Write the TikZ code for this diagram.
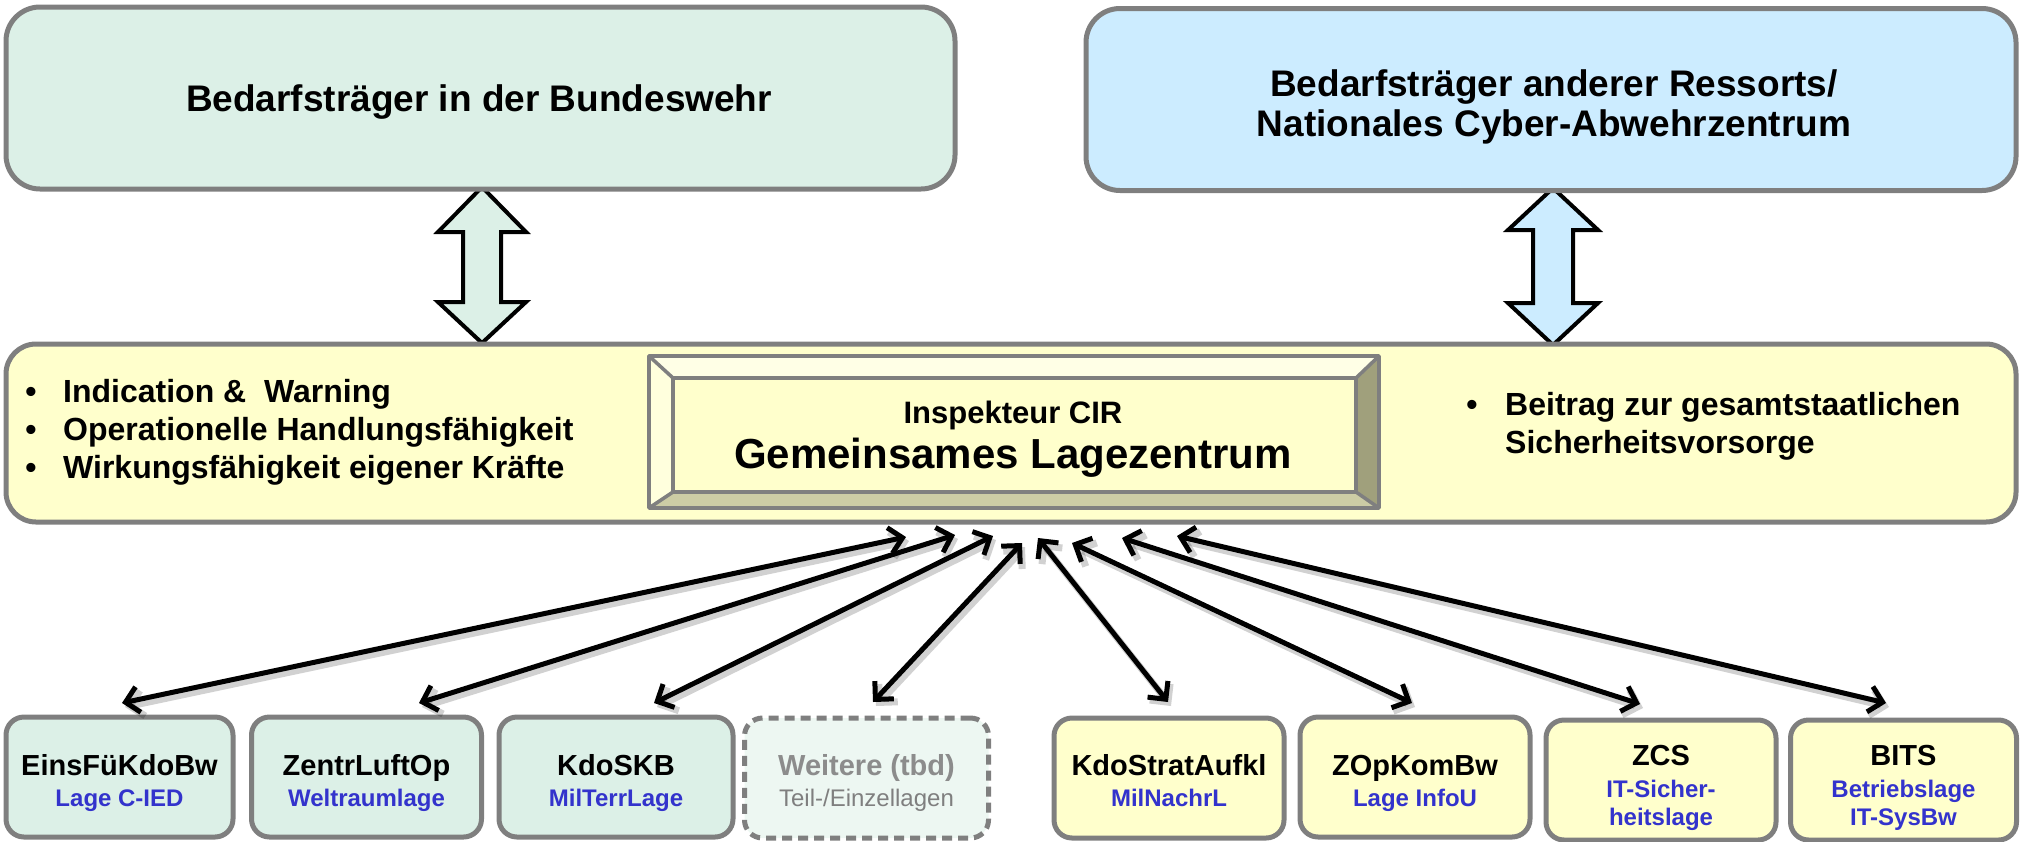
\documentclass[tikz,border=0pt]{standalone}
\usepackage{fontspec}
\setmainfont{Liberation Sans}
\usetikzlibrary{arrows.meta}
\definecolor{bordergray}{RGB}{127,127,127}
\definecolor{greenfill}{RGB}{220,240,231}
\definecolor{bluefill}{RGB}{204,236,255}
\definecolor{yellowfill}{RGB}{255,255,204}
\definecolor{palegreen}{RGB}{237,247,242}
\definecolor{sublabel}{RGB}{51,51,204}
\definecolor{graytext}{RGB}{140,140,140}
\definecolor{bevtop}{RGB}{255,255,230}
\definecolor{bevleft}{RGB}{255,255,221}
\definecolor{bevright}{RGB}{160,160,124}
\definecolor{bevbottom}{RGB}{204,204,165}
\tikzset{
  topbox/.style={draw=bordergray, line width=5pt, rounded corners=34pt, inner sep=0pt},
  midbox/.style={draw=bordergray, line width=5pt, rounded corners=30pt, inner sep=0pt, fill=yellowfill},
  lowbox/.style={draw=bordergray, line width=5pt, rounded corners=18pt, inner sep=0pt, minimum height=120pt},
  headtext/.style={font=\fontsize{37}{40}\selectfont\bfseries, anchor=base, inner sep=0pt},
  bullettext/.style={font=\fontsize{32}{38}\selectfont\bfseries, anchor=base west, inner sep=0pt},
  bulletmark/.style={font=\fontsize{32}{38}\selectfont\bfseries, anchor=base, inner sep=0pt},
  titletext/.style={font=\fontsize{29}{32}\selectfont\bfseries, anchor=base, inner sep=0pt},
  subtext/.style={font=\fontsize{24}{28}\selectfont\bfseries, text=sublabel, anchor=base, inner sep=0pt},
  blockarrow/.style={draw=black, line width=4pt, line join=miter},
  linkarrow/.style={line width=5pt, {Straight Barb[length=13pt,width=26pt]}-{Straight Barb[length=13pt,width=26pt]}},
  linkshadow/.style={linkarrow, draw=black, opacity=0.18, line width=7pt},
  bevline/.style={draw=bordergray, line width=3.5pt, line join=round}
}
\begin{document}
\begin{tikzpicture}[x=1pt,y=-1pt]
\useasboundingbox (0,0) rectangle (2020,841);

% block double arrows
\draw[blockarrow, fill=greenfill] (482,187) -- (526,232) -- (501,232) -- (501,302) -- (526,302) -- (482,343) -- (438,302) -- (463,302) -- (463,232) -- (438,232) -- cycle;
\draw[blockarrow, fill=bluefill] (1553,188) -- (1598,230) -- (1573,230) -- (1573,303) -- (1598,303) -- (1553,345) -- (1508,303) -- (1533,303) -- (1533,230) -- (1508,230) -- cycle;

% top boxes
\node[topbox, fill=greenfill, minimum width=949pt, minimum height=182pt] (topL) at (480.5,98) {};
\node[headtext] (topLt) at (479,111) {Bedarfsträger in der Bundeswehr};
\node[topbox, fill=bluefill, minimum width=930pt, minimum height=182pt] (topR) at (1551,99.5) {};
\node[headtext] (topRt1) at (1554,96) {Bedarfsträger anderer Ressorts/};
\node[headtext] (topRt2) at (1554,136) {Nationales Cyber-Abwehrzentrum};

% middle box
\node[midbox, minimum width=2010pt, minimum height=178pt] (mid) at (1011,433) {};

% bevel box
\fill[bevtop] (649,356) -- (1379,356) -- (1356,378) -- (673,378) -- cycle;
\fill[bevleft] (649,356) -- (673,378) -- (673,492) -- (649,508) -- cycle;
\fill[bevright] (1379,356) -- (1379,508) -- (1356,492) -- (1356,378) -- cycle;
\fill[bevbottom] (649,508) -- (1379,508) -- (1356,492) -- (673,492) -- cycle;
\fill[yellowfill] (673,378) rectangle (1356,492);
\draw[bevline] (649,356) rectangle (1379,508);
\draw[bevline] (673,378) rectangle (1356,492);
\draw[bevline] (649,356) -- (673,378) (1379,356) -- (1356,378) (649,508) -- (673,492) (1379,508) -- (1356,492);
\node[font=\fontsize{31}{34}\selectfont\bfseries, anchor=base, inner sep=0pt] (insp) at (1013,423) {Inspekteur CIR};
\node[font=\fontsize{42}{46}\selectfont\bfseries, anchor=base, inner sep=0pt] (glz) at (1013,468) {Gemeinsames Lagezentrum};

% bullets left
\node[bulletmark] (bl1) at (31,402) {•};
\node[bullettext] (tl1) at (63,402) {Indication \&\ \ Warning};
\node[bulletmark] (bl2) at (31,440) {•};
\node[bullettext] (tl2) at (63,440) {Operationelle Handlungsfähigkeit};
\node[bulletmark] (bl3) at (31,478) {•};
\node[bullettext] (tl3) at (63,478) {Wirkungsfähigkeit eigener Kräfte};
% bullets right
\node[bulletmark] (br1) at (1472,415) {•};
\node[bullettext] (tr1) at (1505,415) {Beitrag zur gesamtstaatlichen};
\node[bullettext] (tr2) at (1505,453) {Sicherheitsvorsorge};

% bottom boxes
\node[lowbox, fill=greenfill, minimum width=227pt] (b1) at (119.5,777) {};
\node[lowbox, fill=greenfill, minimum width=230pt] (b2) at (366.5,777) {};
\node[lowbox, fill=greenfill, minimum width=234pt] (b3) at (616,777) {};
\node[lowbox, fill=palegreen, minimum width=244pt, dash pattern=on 10pt off 6pt] (b4) at (866.5,778) {};
\node[lowbox, fill=yellowfill, minimum width=230pt] (b5) at (1169,778) {};
\node[lowbox, fill=yellowfill, minimum width=230pt] (b6) at (1415,777) {};
\node[lowbox, fill=yellowfill, minimum width=230pt] (b7) at (1661,780) {};
\node[lowbox, fill=yellowfill, minimum width=226pt] (b8) at (1903.5,780) {};

\node[titletext] (b1t) at (119.5,775) {EinsFüKdoBw};
\node[subtext] (b1s) at (119.5,806) {Lage C-IED};
\node[titletext] (b2t) at (366.5,775) {ZentrLuftOp};
\node[subtext] (b2s) at (366.5,806) {Weltraumlage};
\node[titletext] (b3t) at (616,775) {KdoSKB};
\node[subtext] (b3s) at (616,806) {MilTerrLage};
\node[titletext, text=graytext] (b4t) at (866.5,775) {Weitere (tbd)};
\node[subtext, font=\fontsize{24}{28}\selectfont, text=bordergray] (b4s) at (866.5,806) {Teil-/Einzellagen};
\node[titletext] (b5t) at (1169,775) {KdoStratAufkl};
\node[subtext] (b5s) at (1169,806) {MilNachrL};
\node[titletext] (b6t) at (1415,775) {ZOpKomBw};
\node[subtext] (b6s) at (1415,806) {Lage InfoU};
\node[titletext] (b7t) at (1661,765) {ZCS};
\node[subtext] (b7s1) at (1661,797) {IT-Sicher-};
\node[subtext] (b7s2) at (1661,825) {heitslage};
\node[titletext] (b8t) at (1903.5,765) {BITS};
\node[subtext] (b8s1) at (1903.5,797) {Betriebslage};
\node[subtext] (b8s2) at (1903.5,825) {IT-SysBw};

% connector end points
\coordinate (s1) at (906,537);  \coordinate (e1) at (122,703);
\coordinate (s2) at (955,535);  \coordinate (e2) at (419,703);
\coordinate (s3) at (993,536);  \coordinate (e3) at (654,703);
\coordinate (s4) at (1022,543); \coordinate (e4) at (873,702);
\coordinate (s5) at (1038,538); \coordinate (e5) at (1168,702);
\coordinate (s6) at (1072,543); \coordinate (e6) at (1412,703);
\coordinate (s7) at (1122,538); \coordinate (e7) at (1640,704);
\coordinate (s8) at (1177,536); \coordinate (e8) at (1886,703);

\foreach \i in {1,...,8} {
  \draw[linkshadow] ([shift={(3,4)}]s\i) -- ([shift={(3,4)}]e\i);
}
\foreach \i in {1,...,8} {
  \draw[linkarrow] (s\i) -- (e\i);
}
\end{tikzpicture}
\end{document}
